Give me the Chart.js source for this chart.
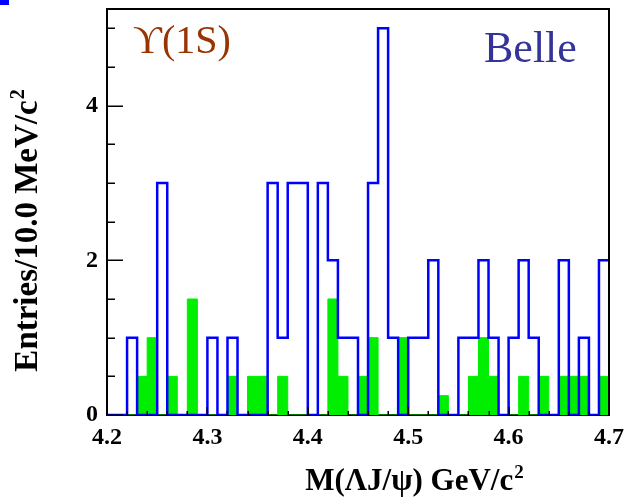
<!DOCTYPE html>
<html>
<head>
<meta charset="utf-8">
<title>M(ΛJ/ψ) in Υ(1S) decays</title>
<script src="https://cdn.jsdelivr.net/npm/chart.js@4.4.1/dist/chart.umd.min.js"></script>
<style>
  body { margin: 0; background: #fff; }
  canvas { display: block; }
</style>
</head>
<body>
<canvas id="mass" width="626" height="499"></canvas>
<script>
// 10 MeV bins from 4.20 to 4.70 GeV/c^2
const binEdges = [
  4.20, 4.21, 4.22, 4.23, 4.24, 4.25, 4.26, 4.27, 4.28, 4.29,
  4.30, 4.31, 4.32, 4.33, 4.34, 4.35, 4.36, 4.37, 4.38, 4.39,
  4.40, 4.41, 4.42, 4.43, 4.44, 4.45, 4.46, 4.47, 4.48, 4.49,
  4.50, 4.51, 4.52, 4.53, 4.54, 4.55, 4.56, 4.57, 4.58, 4.59,
  4.60, 4.61, 4.62, 4.63, 4.64, 4.65, 4.66, 4.67, 4.68, 4.69,
  4.70
];

// signal region entries per bin
const dataCounts = [
  0, 0, 1, 0, 0, 3, 0, 0, 0, 0,
  1, 0, 1, 0, 0, 0, 3, 1, 3, 3,
  0, 3, 2, 1, 1, 0, 3, 5, 1, 0,
  1, 1, 2, 0, 0, 1, 1, 2, 1, 0,
  1, 2, 1, 0, 0, 2, 0, 1, 0, 2
];

// scaled sideband entries per bin
const sidebandCounts = [
  0, 0, 0, 0.5, 1, 0, 0.5, 0, 1.5, 0,
  0, 0, 0.5, 0, 0.5, 0.5, 0, 0.5, 0, 0,
  0, 0, 1.5, 0.5, 0, 0.5, 1, 0, 0, 1,
  0, 0, 0, 0.25, 0, 0, 0.5, 1, 0.5, 0,
  0, 0.5, 0, 0.5, 0, 0.5, 0.5, 0.5, 0, 0.5
];

const xTickLabels = ['4.2', '4.3', '4.4', '4.5', '4.6', '4.7'];
const yTickLabels = ['0', '2', '4'];

const SERIF = "'Liberation Serif', 'Times New Roman', serif";

// histogram outline: one point at each bin's low edge, plus the upper edge
function steps(counts) {
  const pts = counts.map((c, i) => ({ x: binEdges[i], y: c }));
  pts.push({ x: binEdges[counts.length], y: counts[counts.length - 1] });
  return pts;
}

// ticks drawn inward, plus the top/right sides of the frame
const frameTicks = {
  id: 'frameTicks',
  afterDatasetsDraw(chart) {
    const { ctx, chartArea: a, scales: { x, y } } = chart;
    ctx.save();
    ctx.strokeStyle = '#000';
    ctx.lineWidth = 1.5;
    ctx.beginPath();
    y.ticks.forEach(t => {
      const py = Math.round(y.getPixelForValue(t.value)) + 0.25;
      const len = t.label ? 16 : 8;
      ctx.moveTo(a.left, py);
      ctx.lineTo(a.left + len, py);
    });
    x.ticks.forEach(t => {
      const px = Math.round(x.getPixelForValue(t.value)) + 0.25;
      const len = t.label ? 8 : 4;
      ctx.moveTo(px, a.bottom);
      ctx.lineTo(px, a.bottom - len);
    });
    ctx.stroke();
    ctx.lineWidth = 2;
    ctx.beginPath();
    ctx.moveTo(a.left, a.top);
    ctx.lineTo(a.right, a.top);
    ctx.lineTo(a.right, a.bottom);
    ctx.stroke();
    ctx.restore();
  }
};

// text with a trailing superscript
function supText(ctx, text, sup, x, y, size) {
  ctx.font = `bold ${size}px ${SERIF}`;
  const w1 = ctx.measureText(text).width;
  const supSize = Math.round(size * 0.62);
  ctx.font = `bold ${supSize}px ${SERIF}`;
  const w2 = ctx.measureText(sup).width;
  const x0 = x - (w1 + w2) / 2;
  ctx.font = `bold ${size}px ${SERIF}`;
  ctx.fillText(text, x0, y);
  ctx.font = `bold ${supSize}px ${SERIF}`;
  ctx.fillText(sup, x0 + w1 + 1, y - size * 0.4);
}

const labels = {
  id: 'labels',
  afterDraw(chart) {
    const ctx = chart.ctx;
    ctx.save();
    ctx.textAlign = 'left';
    ctx.textBaseline = 'alphabetic';
    ctx.fillStyle = '#000';

    // axis titles
    supText(ctx, 'M(ΛJ/ψ) GeV/c', '2', 414, 490, 31);
    ctx.save();
    ctx.translate(37, 231);
    ctx.rotate(-Math.PI / 2);
    supText(ctx, 'Entries/10.0 MeV/c', '2', 0, 0, 33);
    ctx.restore();

    ctx.font = `40px ${SERIF}`;
    ctx.fillStyle = '#993300';
    ctx.fillText('ϒ(1S)', 133, 53);

    ctx.font = `44px ${SERIF}`;
    ctx.fillStyle = '#333399';
    ctx.fillText('Belle', 484, 62);

    ctx.fillStyle = '#0000ff';
    ctx.fillRect(0, 0, 9, 5);
    ctx.restore();
  }
};

new Chart(document.getElementById('mass'), {
  type: 'line',
  data: {
    datasets: [
      {
        label: 'Data',
        data: steps(dataCounts),
        stepped: 'before',
        borderColor: '#0000ff',
        borderWidth: 2.5,
        pointRadius: 0,
        fill: false,
        order: 0
      },
      {
        label: 'Sideband',
        data: steps(sidebandCounts),
        stepped: 'before',
        borderColor: '#00ee00',
        backgroundColor: '#00ee00',
        borderWidth: 1,
        pointRadius: 0,
        fill: 'origin',
        order: 1
      }
    ]
  },
  options: {
    responsive: false,
    animation: false,
    layout: { autoPadding: false, padding: { top: 9, right: 17, left: 0, bottom: 0 } },
    plugins: {
      legend: { display: false },
      tooltip: { enabled: false }
    },
    scales: {
      x: {
        type: 'linear',
        min: 4.2,
        max: 4.7,
        afterFit: s => {
          s.height = 84;
          s.paddingLeft = s.paddingRight = 0;
        },
        grid: { drawOnChartArea: false, drawTicks: false },
        border: { color: '#000', width: 2 },
        ticks: {
          stepSize: 0.02,
          includeBounds: false,
          autoSkip: false,
          maxRotation: 0,
          padding: 8,
          color: '#000',
          font: { family: SERIF, size: 24, weight: 'bold' },
          callback: v => {
            const s = v.toFixed(1);
            return Math.abs(v - Number(s)) < 1e-6 && xTickLabels.includes(s) ? s : '';
          }
        }
      },
      y: {
        min: 0,
        max: 5.25,
        afterFit: s => {
          s.width = 107;
          s.paddingTop = s.paddingBottom = 0;
        },
        grid: { drawOnChartArea: false, drawTicks: false },
        border: { color: '#000', width: 2 },
        ticks: {
          stepSize: 0.5,
          includeBounds: false,
          autoSkip: false,
          padding: 9,
          color: '#000',
          font: { family: SERIF, size: 24, weight: 'bold' },
          callback: v => yTickLabels.includes(String(v)) ? String(v) : ''
        }
      }
    }
  },
  plugins: [frameTicks, labels]
});
</script>
</body>
</html>
